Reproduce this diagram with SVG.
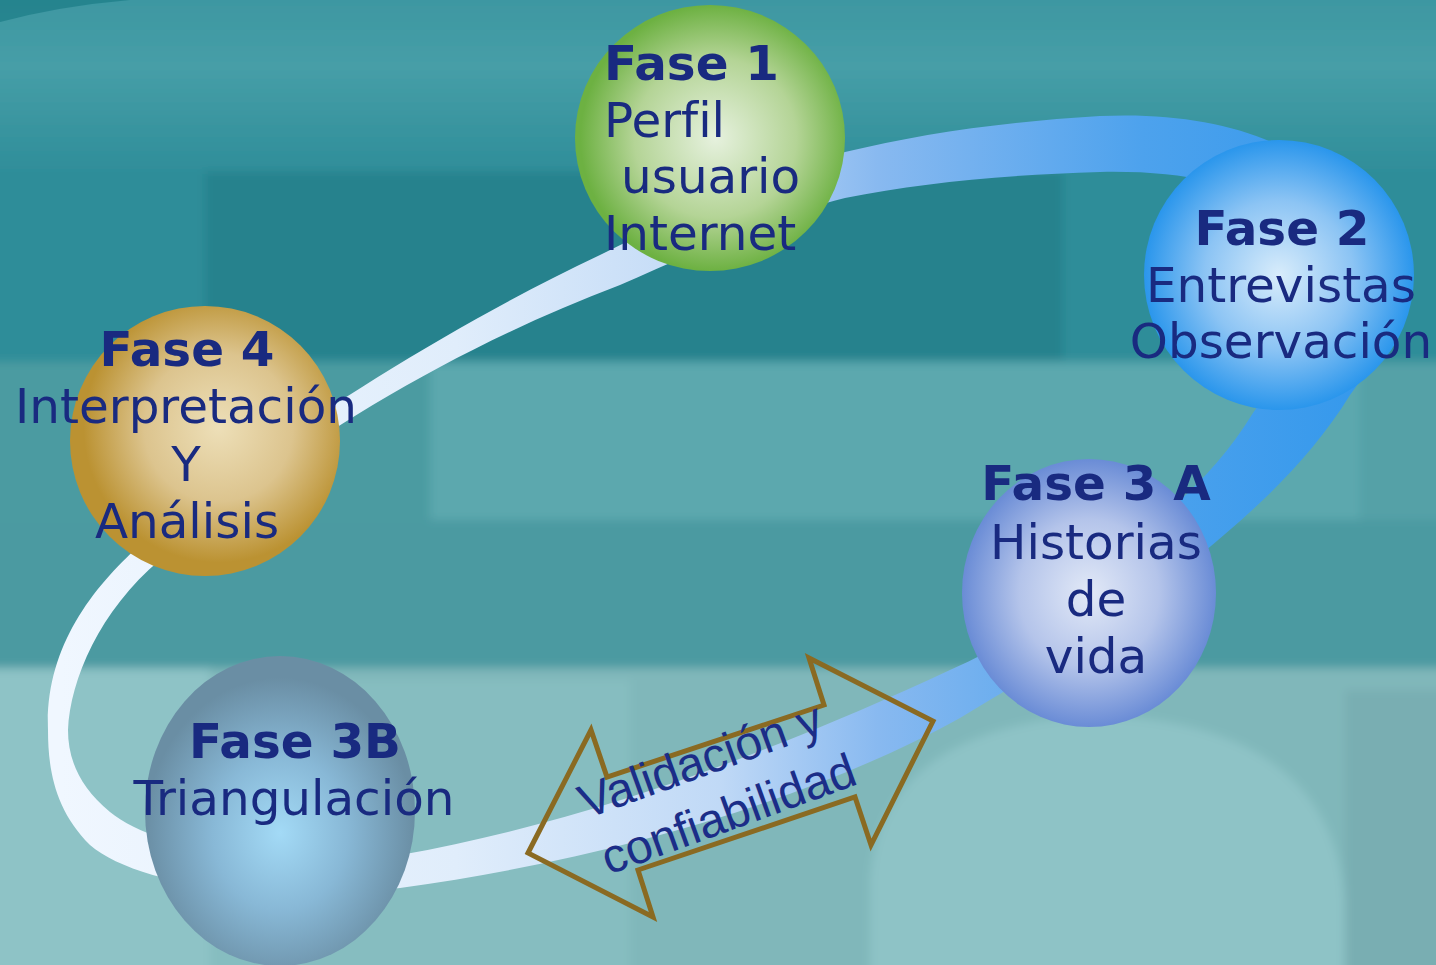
<svg xmlns="http://www.w3.org/2000/svg" width="1436" height="965" viewBox="0 0 1436 965">
<defs>
<style>
text{font-variant-ligatures:none;font-feature-settings:"liga" 0;}
.t{font-family:"DejaVu Sans","Noto Sans",sans-serif;font-size:48.4px;fill:#192a80;}
.b{font-weight:bold;}
.m{text-anchor:middle;}
.ar{font-family:"Liberation Sans",Arial,sans-serif;font-size:48px;fill:#1b2d88;text-anchor:middle;}
</style>
<filter id="soft" x="-10%" y="-10%" width="120%" height="120%"><feGaussianBlur stdDeviation="5"/></filter>
<linearGradient id="topg" x1="0" y1="0" x2="0" y2="1">
<stop offset="0" stop-color="#3b95a0"/><stop offset="0.45" stop-color="#469ea7"/><stop offset="1" stop-color="#2e8d99"/>
</linearGradient>
<linearGradient id="band" gradientUnits="userSpaceOnUse" x1="60" y1="0" x2="1380" y2="0">
<stop offset="0" stop-color="#f0f7ff"/><stop offset="0.3" stop-color="#e0edfb"/><stop offset="0.5" stop-color="#c0d9f6"/><stop offset="0.62" stop-color="#88b9f0"/><stop offset="0.82" stop-color="#4da2ed"/><stop offset="1" stop-color="#3398ec"/>
</linearGradient>
<radialGradient id="g1" cx="0.52" cy="0.5" r="0.5"><stop offset="0" stop-color="#e6f1de"/><stop offset="0.6" stop-color="#b4d496"/><stop offset="1" stop-color="#6db142"/></radialGradient>
<radialGradient id="g2" cx="0.5" cy="0.5" r="0.5"><stop offset="0" stop-color="#d8ecfb"/><stop offset="0.55" stop-color="#8cc4f4"/><stop offset="1" stop-color="#2a96ec"/></radialGradient>
<radialGradient id="g4" cx="0.55" cy="0.45" r="0.5"><stop offset="0" stop-color="#eddfb8"/><stop offset="0.55" stop-color="#dcc48e"/><stop offset="1" stop-color="#bb9232"/></radialGradient>
<radialGradient id="g3a" cx="0.5" cy="0.5" r="0.5"><stop offset="0" stop-color="#e2e9f7"/><stop offset="0.55" stop-color="#b4c4ea"/><stop offset="1" stop-color="#6a8cd6"/></radialGradient>
<radialGradient id="g3b" cx="0.5" cy="0.57" r="0.5"><stop offset="0" stop-color="#a3daf6"/><stop offset="0.5" stop-color="#88b8d6"/><stop offset="1" stop-color="#6a8ea4"/></radialGradient>
</defs>

<g id="background">
<rect x="0" y="0" width="1436" height="965" fill="#4c9aa1"/>
<g filter="url(#soft)">
<rect x="-20" y="-20" width="1476" height="195" fill="url(#topg)"/>
<rect x="-20" y="170" width="1476" height="192" fill="#2f8d99"/>
<rect x="205" y="172" width="858" height="188" fill="#27828d"/>
<rect x="-20" y="362" width="450" height="160" fill="#4c9ba1"/>
<rect x="430" y="362" width="930" height="158" fill="#5ba8ae"/>
<rect x="1360" y="362" width="100" height="300" fill="#55a1a7"/>
<rect x="-20" y="520" width="1476" height="150" fill="#4c9aa1"/>
<rect x="-20" y="668" width="1476" height="320" fill="#80b7ba"/>
<rect x="-20" y="668" width="230" height="320" fill="#8ec3c6"/>
<rect x="210" y="680" width="420" height="300" fill="#86bdc0"/>
<path d="M870 990 L870 880 Q880 730 1090 715 Q1330 720 1345 900 L1345 990 Z" fill="#8ec3c6"/>
<rect x="1345" y="690" width="110" height="290" fill="#79aeb2"/>
</g>
<path d="M0 22 Q60 6 130 0 L0 0 Z" fill="#1f8089" opacity="0.8"/>
</g>

<g id="connectors">
<path fill="url(#band)" fill-rule="evenodd" d="
M 48,730 C 45,650 90,590 140,545 C 250,455 430,335 600,255 C 700,205 780,168 845,152 C 920,134 1000,122 1100,116 C 1230,110 1330,150 1370,230 C 1400,300 1385,350 1350,395 C 1310,460 1255,510 1200,555 C 1120,625 1040,670 960,718 C 820,795 620,858 400,888 C 250,905 130,880 90,845 C 55,810 48,770 48,730 Z
M 68,730 C 70,680 100,610 160,560 C 270,462 430,357 620,285 C 700,250 780,214 845,198 C 920,183 1000,175 1100,172 C 1200,170 1260,190 1290,225 C 1310,300 1290,360 1253,413 C 1230,450 1205,478 1177,503 C 1100,580 1040,630 950,670 C 800,740 600,820 400,855 C 260,872 150,845 110,812 C 80,787 68,760 68,730 Z"/>
</g>

<g id="arrow-validacion">
<polygon points="528,853 591,730 607,777 824,705 809,658 933,721 871,845 855,797 638,870 653,917" fill="none" stroke="#8a6a22" stroke-width="5" stroke-linejoin="miter"/>
<g transform="translate(718,800) rotate(-20)">
<text class="ar" x="-3" y="-27">Validación y</text>
<text class="ar" x="5" y="33">confiabilidad</text>
</g>
</g>

<g id="fase1">
<ellipse cx="710" cy="138" rx="135" ry="133" fill="url(#g1)"/>
<text class="t b" x="604" y="80">Fase 1</text>
<text class="t" x="604" y="137">Perfil</text>
<text class="t" x="621" y="193">usuario</text>
<text class="t" x="604" y="250">Internet</text>
</g>

<g id="fase2">
<ellipse cx="1279" cy="275" rx="135" ry="135" fill="url(#g2)"/>
<text class="t b m" x="1282" y="245">Fase 2</text>
<text class="t m" x="1281" y="302">Entrevistas</text>
<text class="t m" x="1281" y="358">Observación</text>
</g>

<g id="fase4">
<ellipse cx="205" cy="441" rx="135" ry="135" fill="url(#g4)"/>
<text class="t b m" x="187" y="366">Fase 4</text>
<text class="t m" x="186" y="423">Interpretación</text>
<text class="t m" x="186" y="481">Y</text>
<text class="t m" x="187" y="538">Análisis</text>
</g>

<g id="fase3a">
<ellipse cx="1089" cy="593" rx="127" ry="134" fill="url(#g3a)"/>
<text class="t b m" x="1096" y="500">Fase 3 A</text>
<text class="t m" x="1096" y="559">Historias</text>
<text class="t m" x="1096" y="616">de</text>
<text class="t m" x="1096" y="673">vida</text>
</g>

<g id="fase3b">
<ellipse cx="280" cy="811" rx="135" ry="155" fill="url(#g3b)"/>
<text class="t b m" x="295" y="758">Fase 3B</text>
<text class="t m" x="294" y="815">Triangulación</text>
</g>
</svg>
